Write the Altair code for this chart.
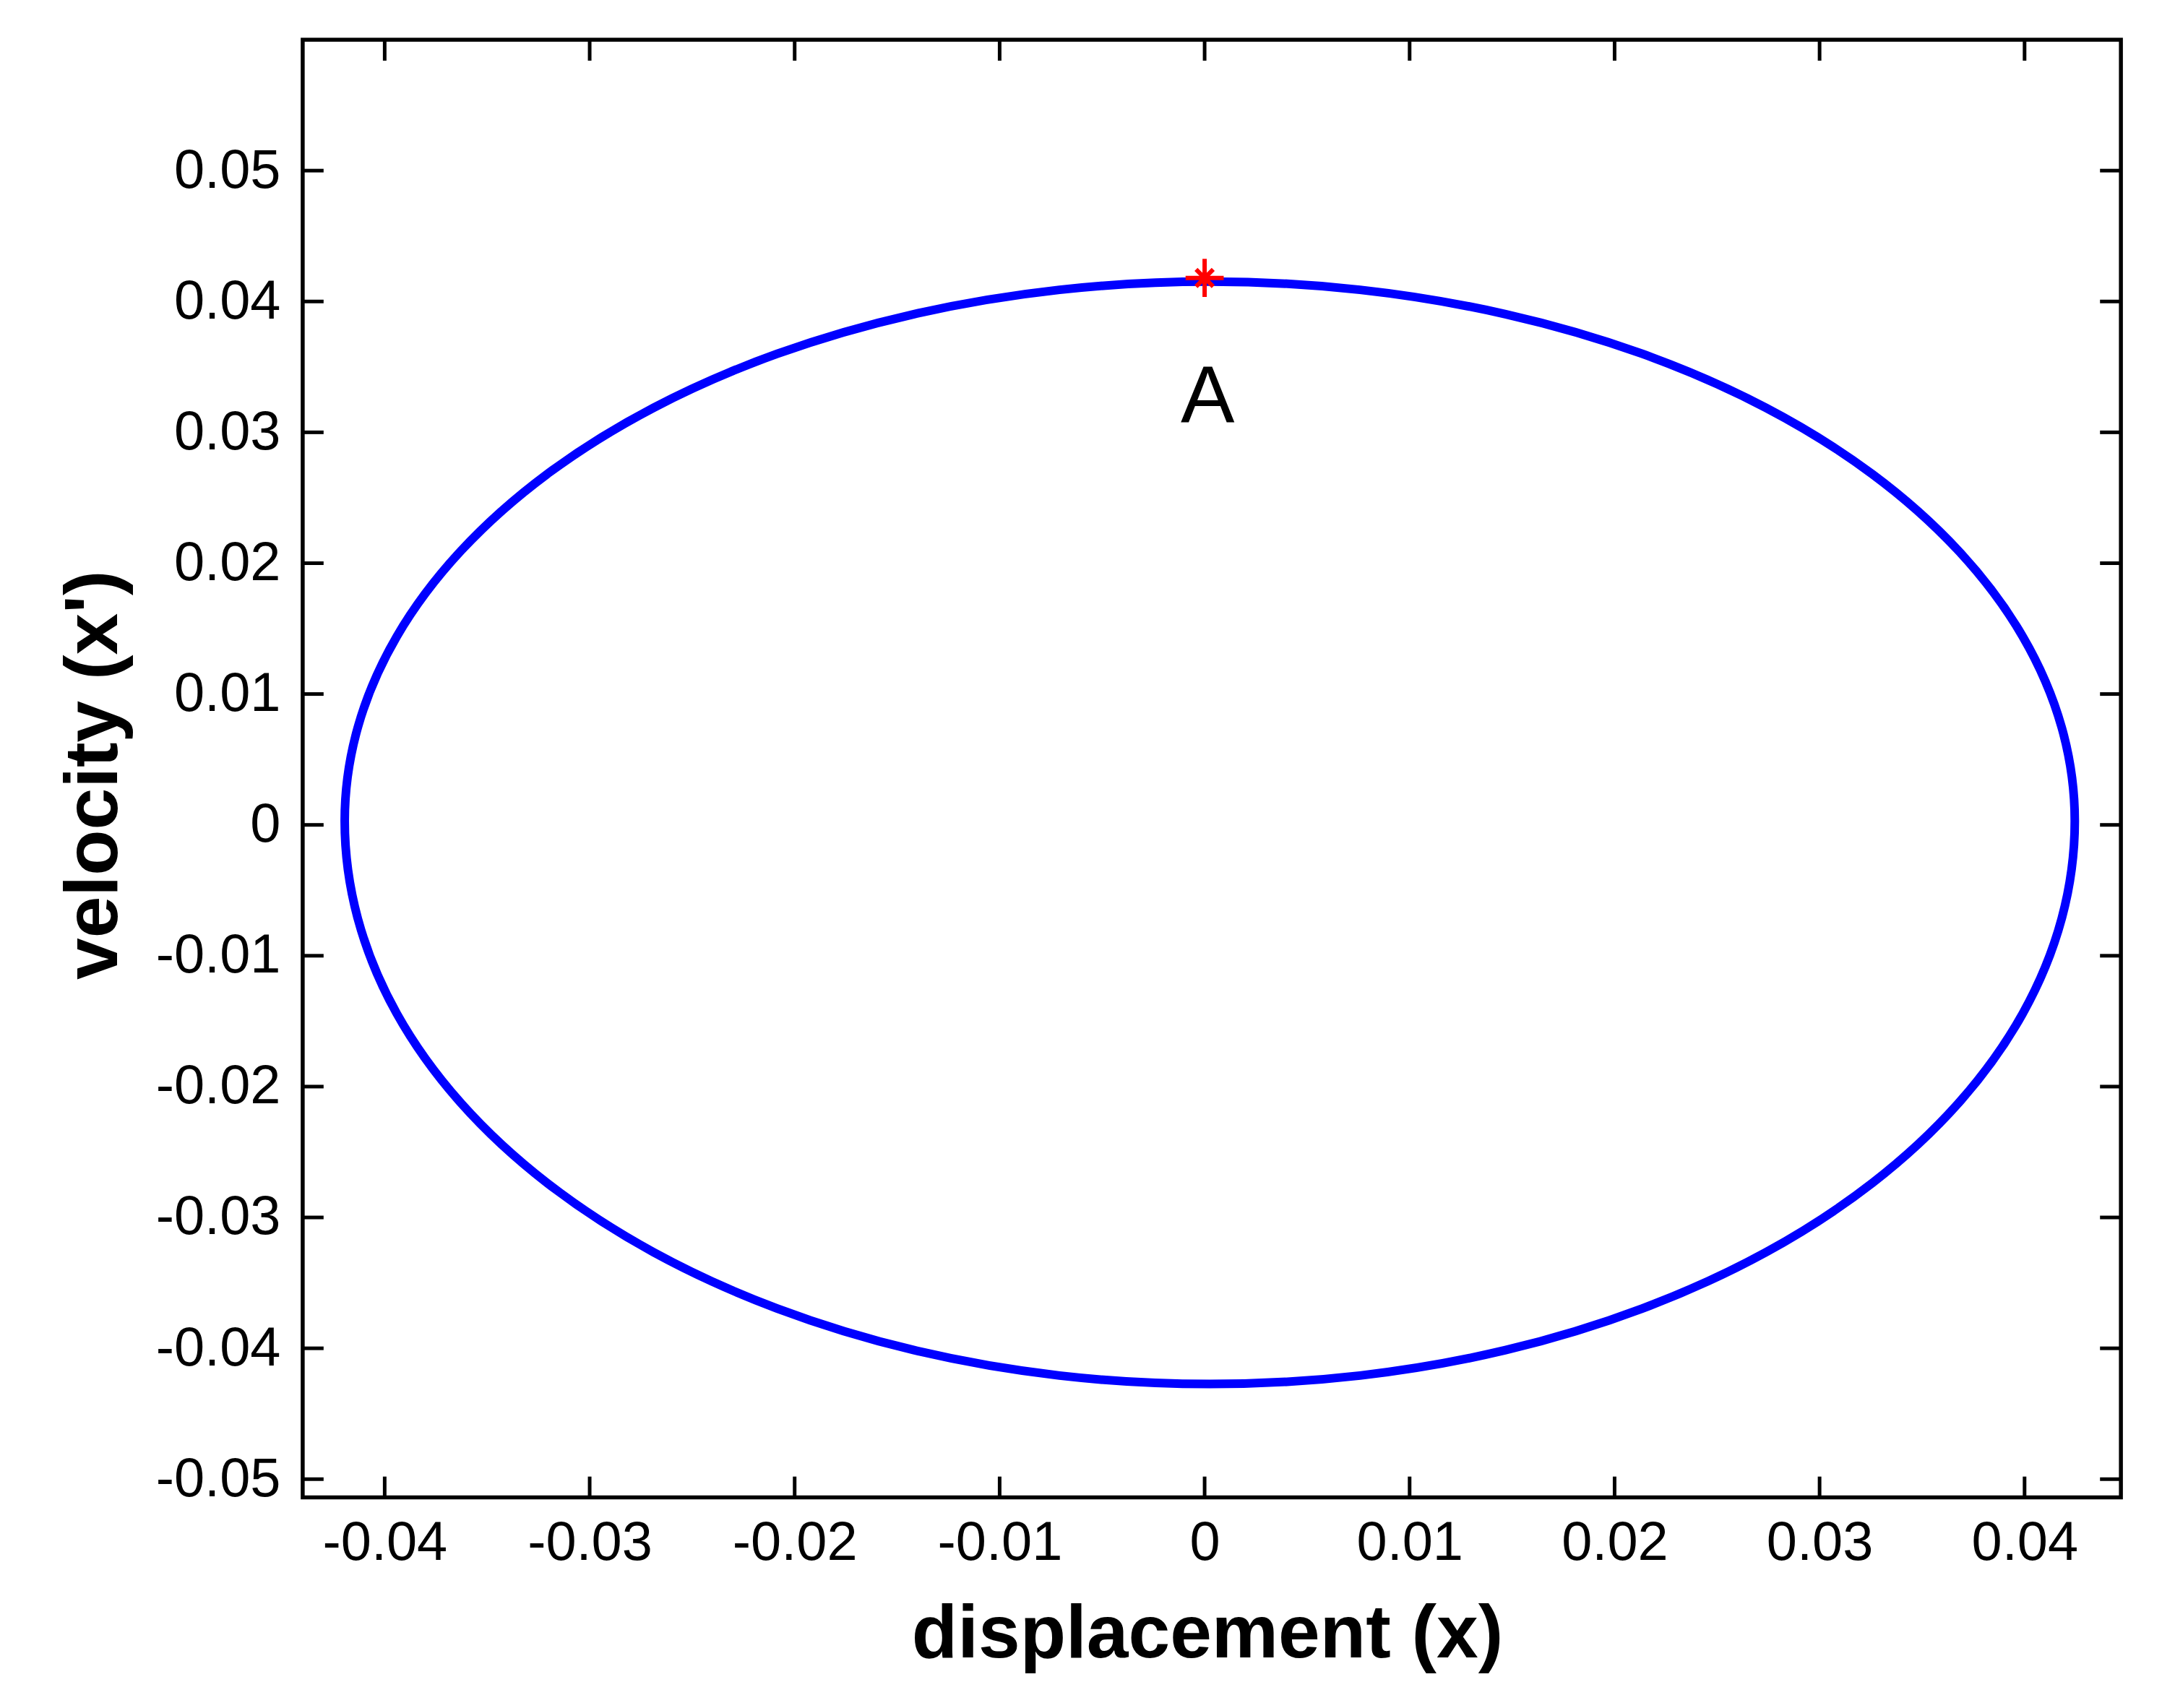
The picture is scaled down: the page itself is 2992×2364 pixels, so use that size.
import altair as alt
import pandas as pd

# ---------------- data ----------------
x_ticks = [-0.04, -0.03, -0.02, -0.01, 0, 0.01, 0.02, 0.03, 0.04]
y_ticks = [-0.05, -0.04, -0.03, -0.02, -0.01, 0, 0.01, 0.02, 0.03, 0.04, 0.05]

# phase-plane trajectory (displacement, velocity), read around the loop
disp = [0.04245, 0.04181, 0.03991, 0.03680, 0.03258, 0.02738, 0.02135, 0.01468, 0.00758,
        0.00025, -0.00708, -0.01418, -0.02085, -0.02688, -0.03208, -0.03630, -0.03941, -0.04131,
        -0.04195, -0.04131, -0.03941, -0.03630, -0.03208, -0.02688, -0.02085, -0.01418, -0.00708,
        0.00025, 0.00758, 0.01468, 0.02135, 0.02738, 0.03258, 0.03680, 0.03991, 0.04181]
vel = [0.00030, 0.00746, 0.01440, 0.02091, 0.02680, 0.03188, 0.03600, 0.03903, 0.04089,
       0.04152, 0.04089, 0.03903, 0.03600, 0.03188, 0.02680, 0.02091, 0.01440, 0.00746,
       0.00030, -0.00717, -0.01442, -0.02122, -0.02736, -0.03266, -0.03696, -0.04014, -0.04208,
       -0.04273, -0.04208, -0.04014, -0.03696, -0.03266, -0.02736, -0.02122, -0.01442, -0.00717]

marker_x = [0.0]
marker_y = [0.0418]

label_text = ["A"]
label_x = [0.00015]
label_y = [0.03079]

# ---------------- layout ----------------
W, H = 2523, 2023
FONT = "Liberation Sans"
TICK = 29

xscale = alt.Scale(domain=[-0.0440, 0.0447], nice=False, zero=False)
yscale = alt.Scale(domain=[-0.0514, 0.0600], nice=False, zero=False)

curve_df = pd.DataFrame({"x": disp, "y": vel, "i": list(range(len(disp)))})
xt_df = pd.DataFrame({"x": x_ticks})
yt_df = pd.DataFrame({"y": y_ticks})
marker_df = pd.DataFrame({"x": marker_x, "y": marker_y})
text_df = pd.DataFrame({"x": label_x, "y": label_y, "t": label_text})

x_axis = alt.Axis(
    values=x_ticks, labelExpr="toString(datum.value)", ticks=False, tickSize=0,
    domain=False, grid=False, labelFontSize=76, labelPadding=26, labelFlush=False,
    title="displacement (x)", titleFontSize=104, titleFontWeight="bold",
    titleX=1255, titleY=221, titleBaseline="alphabetic", titleAlign="center",
)
y_axis = alt.Axis(
    values=y_ticks, labelExpr="toString(datum.value)", ticks=False, tickSize=0,
    domain=False, grid=False, labelFontSize=76, labelPadding=31, labelFlush=False,
    title="velocity (x')", titleFontSize=104, titleFontWeight="bold",
    titleX=-258, titleY=1020, titleAngle=270, titleBaseline="alphabetic", titleAlign="center",
)

X = alt.X("x:Q", scale=xscale, axis=x_axis, title="displacement (x)")
Y = alt.Y("y:Q", scale=yscale, axis=y_axis, title="velocity (x')")

line = alt.Chart(curve_df).mark_line(
    color="#0000FF", strokeWidth=12, interpolate="cardinal-closed"
).encode(x=X, y=Y, order=alt.Order("i:Q"))

tick_style = dict(color="black", strokeWidth=5)
bottom_ticks = alt.Chart(xt_df).mark_rule(**tick_style).encode(
    x=X, y=alt.value(H), y2=alt.value(H - TICK))
top_ticks = alt.Chart(xt_df).mark_rule(**tick_style).encode(
    x=X, y=alt.value(0), y2=alt.value(TICK))
left_ticks = alt.Chart(yt_df).mark_rule(**tick_style).encode(
    y=Y, x=alt.value(0), x2=alt.value(TICK))
right_ticks = alt.Chart(yt_df).mark_rule(**tick_style).encode(
    y=Y, x=alt.value(W), x2=alt.value(W - TICK))

star = alt.Chart(marker_df).mark_point(
    shape="M-1,0L1,0M0,-1L0,1M-0.45,-0.45L0.45,0.45M-0.45,0.45L0.45,-0.45",
    size=2800, filled=False, color="#FF0000", strokeWidth=6, opacity=1,
).encode(x=X, y=Y)

label = alt.Chart(text_df).mark_text(
    font=FONT, fontSize=112, color="black", align="center", baseline="alphabetic"
).encode(x=X, y=Y, text="t:N")

chart = alt.layer(
    line, bottom_ticks, top_ticks, left_ticks, right_ticks, star, label
).properties(
    width=W, height=H,
    autosize=alt.AutoSizeParams(type="none"),
    padding={"left": 412, "top": 44, "right": 49, "bottom": 289},
    background="white",
).configure_view(
    stroke="black", strokeWidth=5.5
).configure_axis(
    labelFont=FONT, titleFont=FONT, labelColor="black", titleColor="black"
)

chart.save("out.html", embed_options={"renderer": "svg", "actions": False})
